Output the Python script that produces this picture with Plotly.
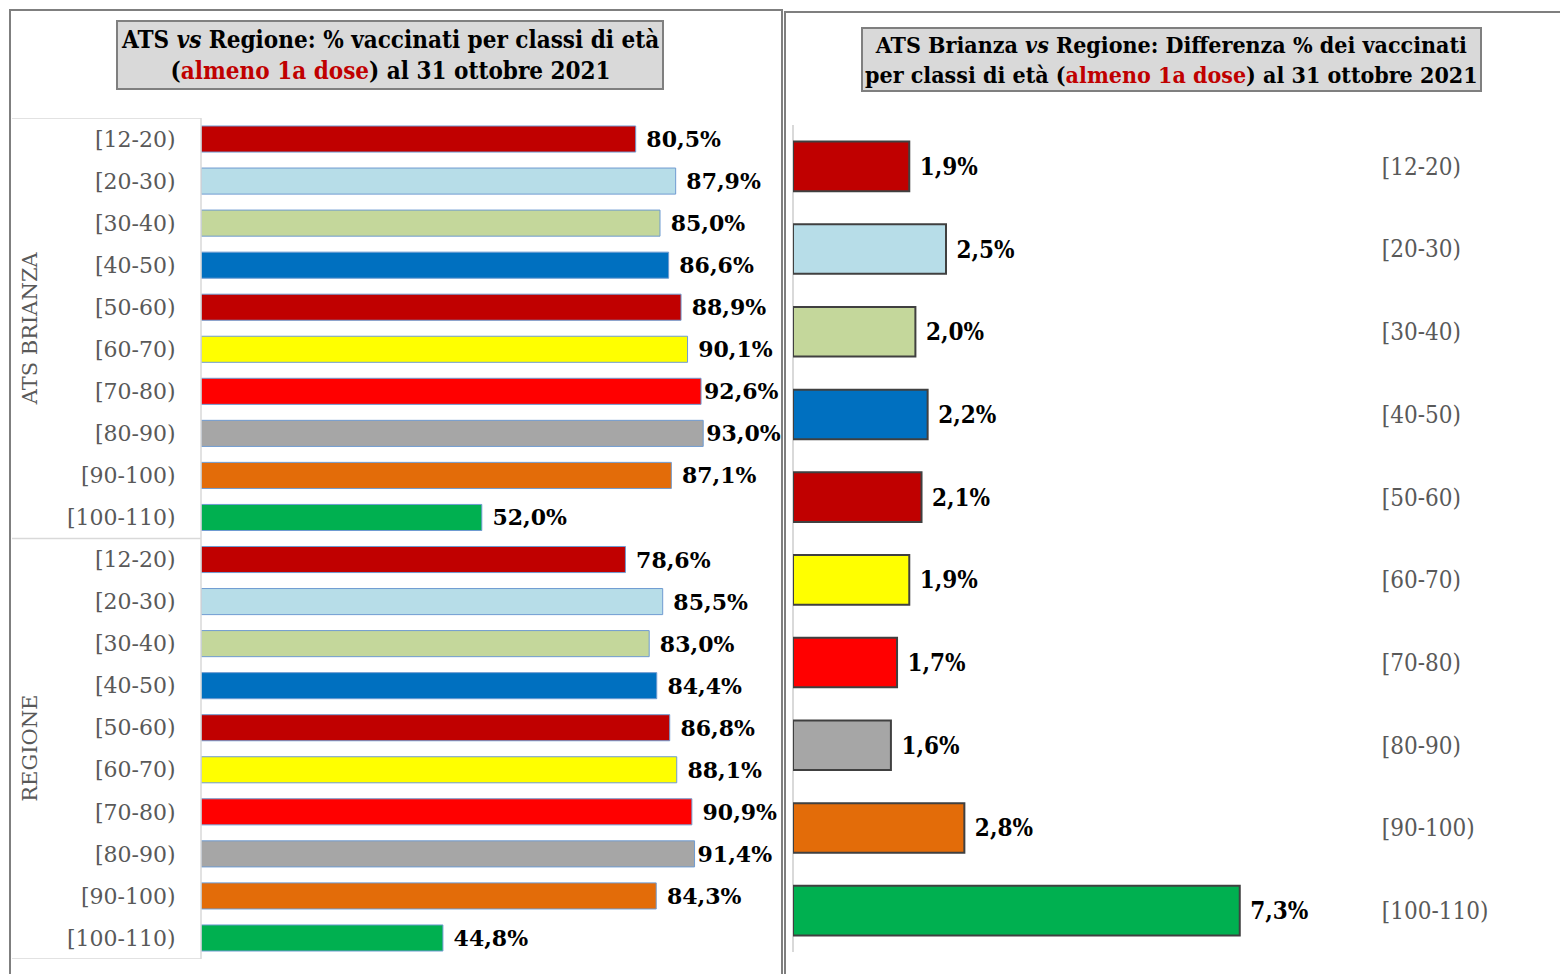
import plotly.graph_objects as go

# la pagina ha 8 px di margine: il grafico parte da (8, 8)
OFF = 8
W, H = 1568 - OFF, 974 - OFF

classi = ["[12-20)", "[20-30)", "[30-40)", "[40-50)", "[50-60)",
          "[60-70)", "[70-80)", "[80-90)", "[90-100)", "[100-110)"]
colori = ["#C00000", "#B7DDE8", "#C4D79B", "#0070C0", "#C00000",
          "#FFFF00", "#FF0000", "#A6A6A6", "#E36C09", "#00B050"]
ats_brianza = [80.5, 87.9, 85.0, 86.6, 88.9, 90.1, 92.6, 93.0, 87.1, 52.0]
regione = [78.6, 85.5, 83.0, 84.4, 86.8, 88.1, 90.9, 91.4, 84.3, 44.8]
differenza = [1.9, 2.5, 2.0, 2.2, 2.1, 1.9, 1.7, 1.6, 2.8, 7.3]
gruppi = ["ATS BRIANZA", "REGIONE"]


def px(x):
    return (x - OFF) / W


def py(y):
    return 1 - (y - OFF) / H


def etichetta(v):
    # come in Excel, le etichette delle barre più lunghe restano attaccate alla barra
    s = f"{v:.1f}".replace(".", ",") + "%"
    return s if v > 91 else "\u00a0" + s


GRIGIO = "#595959"
fig = go.Figure()

# pannello sinistro: ATS e Regione uno sopra l'altro
valori_sx = ats_brianza + regione
pos_sx = list(range(len(valori_sx)))
fig.add_trace(go.Bar(
    x=valori_sx, y=pos_sx, orientation="h",
    marker=dict(color=colori * 2, line=dict(color="#6F9BD1", width=1)),
    width=0.62,
    text=[etichetta(v) for v in valori_sx], textposition="outside",
    textfont=dict(family="DejaVu Serif", size=22, color="black", weight="bold"),
    cliponaxis=False, hoverinfo="skip", xaxis="x", yaxis="y"))

# pannello destro: differenza
fig.add_trace(go.Bar(
    x=differenza, y=list(range(len(classi))), orientation="h",
    marker=dict(color=colori, line=dict(color="#404040", width=2)),
    width=0.6,
    texttemplate="\u00a0%{x:.1f}%", textposition="outside",
    textfont=dict(family="DejaVu Serif Condensed", size=24, color="black", weight="bold"),
    cliponaxis=False, hoverinfo="skip", xaxis="x2", yaxis="y2"))

fig.update_layout(
    width=W, height=H,
    margin=dict(l=0, r=0, t=0, b=0),
    paper_bgcolor="white", plot_bgcolor="white",
    separators=",.",
    showlegend=False,
    xaxis=dict(domain=[px(201), px(741)], range=[0, 100], visible=False),
    yaxis=dict(domain=[py(959), py(118)], range=[19.5, -0.5],
               tickvals=pos_sx, ticktext=classi * 2,
               ticks="outside", ticklen=20, tickcolor="rgba(0,0,0,0)",
               tickfont=dict(family="DejaVu Serif", size=22, color=GRIGIO),
               showgrid=False, zeroline=False, showline=False, automargin=False),
    xaxis2=dict(domain=[px(793), px(1375)], range=[0, 582 / 61.2],
                showticklabels=False, showgrid=False, ticks="",
                zeroline=True, zerolinecolor="#D9D9D9", zerolinewidth=1.5,
                anchor="y2"),
    yaxis2=dict(domain=[py(952), py(125)], range=[9.5, -0.5], side="right",
                anchor="x2", tickvals=list(range(len(classi))), ticktext=classi,
                ticks="outside", ticklen=1, tickcolor="rgba(0,0,0,0)",
                tickfont=dict(family="DejaVu Serif Condensed", size=24, color=GRIGIO),
                showgrid=False, zeroline=False, showline=False, automargin=False),
)

# cornici dei due pannelli
linea = dict(color="#7F7F7F", width=2)
fig.add_shape(type="path", xref="paper", yref="paper",
              path=f"M {px(10)},{py(980)} L {px(10)},{py(10)} L {px(782)},{py(10)} L {px(782)},{py(980)}",
              line=linea)
fig.add_shape(type="path", xref="paper", yref="paper",
              path=f"M {px(785)},{py(980)} L {px(785)},{py(12)} L {px(1575)},{py(12)}",
              line=linea)

# riquadro delle etichette di gruppo
chiaro = dict(color="#D9D9D9", width=1.5)
for yy in [-0.5, 9.5, 19.5]:
    fig.add_shape(type="line", xref="paper", yref="y", x0=px(12), x1=px(201),
                  y0=yy, y1=yy, line=chiaro)
fig.add_shape(type="line", xref="paper", yref="y", x0=px(201), x1=px(201),
              y0=-0.5, y1=19.5, line=chiaro)

for i, g in enumerate(gruppi):
    fig.add_annotation(text=g, xref="paper", yref="y", x=px(30), y=4.5 + 10 * i,
                       xanchor="center", yanchor="middle",
                       textangle=-90, showarrow=False,
                       font=dict(family="DejaVu Serif", size=21, color=GRIGIO))

# titoli
rosso = '<span style="color:#C00000">almeno 1a dose</span>'
fig.add_annotation(
    text=f"ATS <i>vs</i> Regione: % vaccinati per classi di età<br>({rosso}) al 31 ottobre 2021",
    xref="paper", yref="paper", x=px(390), y=py(55), xanchor="center", yanchor="middle",
    showarrow=False,
    bgcolor="#D9D9D9", bordercolor="#7F7F7F", borderwidth=2, borderpad=3,
    font=dict(family="DejaVu Serif Condensed", size=24, color="black", weight="bold"))
fig.add_annotation(
    text=f"ATS Brianza <i>vs</i> Regione: Differenza % dei vaccinati<br>per classi di età ({rosso}) al 31 ottobre 2021",
    xref="paper", yref="paper", x=px(1171), y=py(60), xanchor="center", yanchor="middle",
    showarrow=False,
    bgcolor="#D9D9D9", bordercolor="#7F7F7F", borderwidth=2, borderpad=2,
    font=dict(family="DejaVu Serif Condensed", size=23, color="black", weight="bold"))

fig.write_html("out.html")
